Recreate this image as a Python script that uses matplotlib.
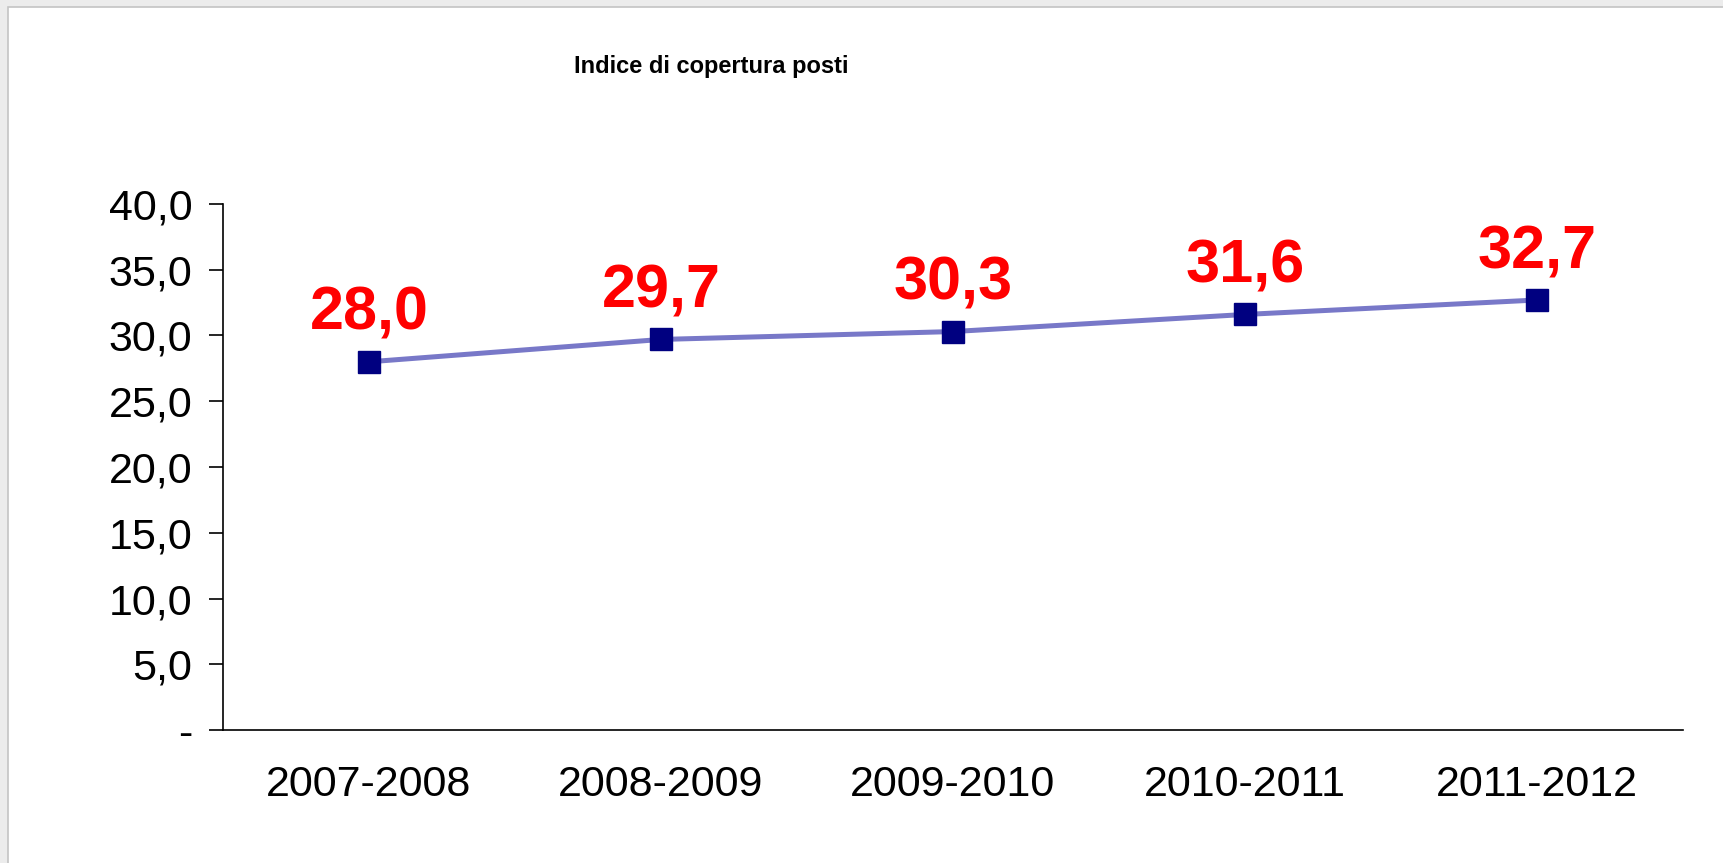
import matplotlib

matplotlib.use("Agg")
import matplotlib.pyplot as plt
from matplotlib.patches import Rectangle

plt.rcParams["font.family"] = ["Liberation Sans", "DejaVu Sans"]

# data
periods = ["2007-2008", "2008-2009", "2009-2010", "2010-2011", "2011-2012"]
coverage = [28.0, 29.7, 30.3, 31.6, 32.7]
y_ticks = [0, 5, 10, 15, 20, 25, 30, 35, 40]
y_tick_labels = ["-", "5,0", "10,0", "15,0", "20,0", "25,0", "30,0", "35,0", "40,0"]
title = "Indice di copertura posti"

W, H = 1723, 863
fig = plt.figure(figsize=(W / 100, H / 100), dpi=100)
fig.patch.set_facecolor("#ececec")

# white slide panel with a thin grey frame on top/left
fig.add_artist(Rectangle((8 / W, -0.05), 1, 1.05 - 7 / H, transform=fig.transFigure,
                         facecolor="white", edgecolor="#c4c4c4", lw=1.2, zorder=0))

ax = fig.add_axes([223 / W, 1 - 730 / H, (1683 - 223) / W, (730 - 204) / H])
ax.set_facecolor("white")

x = list(range(len(periods)))
ax.plot(x, coverage, color="#7878c8", lw=3.6, zorder=2)
ax.plot(x, coverage, ls="none", marker="s", ms=16, color="#000080",
        mec="#000080", zorder=3)

for xi, v in zip(x, coverage):
    ax.annotate(f"{v:.1f}".replace(".", ","), (xi, v), xytext=(0, 23),
                textcoords="offset points", ha="center", va="baseline",
                color="#ff0000", fontsize=44, fontweight="bold")

ax.set_xlim(-0.5, len(periods) - 0.5)
ax.set_ylim(0, 40)
ax.set_yticks(y_ticks)
ax.set_yticklabels(y_tick_labels)
ax.set_xticks(x)
ax.set_xticklabels(periods)
ax.tick_params(axis="y", direction="out", length=10, width=1.2, pad=12,
               labelsize=31)
ax.tick_params(axis="x", length=0, pad=25, labelsize=31)

for side in ("top", "right"):
    ax.spines[side].set_visible(False)
for side in ("left", "bottom"):
    ax.spines[side].set_linewidth(1.2)

fig.text(711 / W, 1 - 66 / H, title, ha="center", va="center",
         fontsize=17, fontweight="bold")

fig.savefig("out.png", dpi=100)
